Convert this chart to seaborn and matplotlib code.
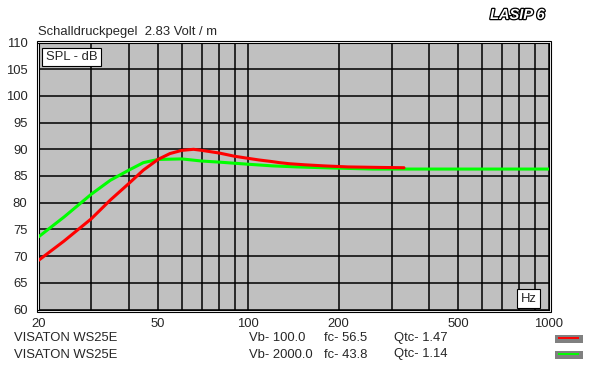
import matplotlib
matplotlib.use("Agg")
import matplotlib.pyplot as plt
import matplotlib.patheffects as pe
from matplotlib.patches import Rectangle
from matplotlib.lines import Line2D
import seaborn as sns
import pandas as pd

# data
freq_red = [20, 24.3, 30, 34.7, 40, 44.7, 50, 54.8, 60, 65.7, 70, 80, 90, 100, 108.6, 120, 127, 137, 154, 178, 215, 279, 330]
spl_red = [69.2, 72.8, 77.0, 80.5, 83.6, 86.1, 88.1, 89.2, 89.8, 90.0, 89.8, 89.3, 88.7, 88.3, 88.0, 87.7, 87.5, 87.3, 87.1, 86.9, 86.7, 86.6, 86.55]

freq_green = [20, 24.3, 30, 34.7, 40, 44.7, 50, 60, 70, 80, 100, 120, 145, 190, 260, 1000]
spl_green = [73.6, 77.3, 81.6, 84.2, 86.1, 87.5, 88.1, 88.2, 87.8, 87.6, 87.2, 86.9, 86.7, 86.5, 86.3, 86.3]

x_labels = [20, 50, 100, 200, 500, 1000]
x_grid = [30, 40, 60, 70, 80, 90, 300, 400, 600, 700, 800, 900]
y_ticks = list(range(60, 111, 5))

drivers = ["VISATON WS25E", "VISATON WS25E"]
vb = ["Vb- 100.0", "Vb- 2000.0"]
fc = ["fc- 56.5", "fc- 43.8"]
qtc = ["Qtc- 1.47", "Qtc- 1.14"]
colors = ["#ff0000", "#00ff00"]

W, H = 591, 367
FS = 9.4
sns.set_style("white")
plt.rcParams["font.family"] = ["Liberation Sans", "DejaVu Sans"]
plt.rcParams["font.size"] = FS

fig = plt.figure(figsize=(W / 100, H / 100), dpi=100)
fig.patch.set_facecolor("white")


def fx(px):
    return px / W


def fy(py):
    return 1 - py / H


left, right, top, bottom = 38.5, 548.5, 42.5, 309.5
ax = fig.add_axes([fx(left), fy(bottom), fx(right - left), (bottom - top) / H])
ax.set_facecolor("#c0c0c0")

df_red = pd.DataFrame({"f": freq_red, "spl": spl_red})
df_green = pd.DataFrame({"f": freq_green, "spl": spl_green})
sns.lineplot(data=df_red, x="f", y="spl", color=colors[0], lw=2.2, ax=ax, estimator=None, zorder=4)
sns.lineplot(data=df_green, x="f", y="spl", color=colors[1], lw=2.2, ax=ax, estimator=None, zorder=3)

ax.set_xscale("log")
ax.set_xlim(20, 1000)
ax.set_ylim(60, 110)
ax.set_xticks(x_labels)
ax.set_xticklabels([str(v) for v in x_labels])
ax.set_xticks(x_grid, minor=True)
ax.set_xticklabels([], minor=True)
ax.set_yticks(y_ticks)
ax.set_yticklabels([str(v) for v in y_ticks])
ax.tick_params(which="both", length=0)
ax.tick_params(axis="x", pad=6, labelsize=FS)
ax.tick_params(axis="y", pad=8, labelsize=FS)
ax.grid(which="both", color="black", lw=1.1)
ax.set_axisbelow(True)
ax.set_xlabel("")
ax.set_ylabel("")
for s in ax.spines.values():
    s.set_color("black")
    s.set_linewidth(0.8)

# outer frame line (double border)
fig.patches.append(Rectangle((fx(36.5), fy(311.5)), fx(550.5 - 36.5), (311.5 - 40.5) / H,
                             transform=fig.transFigure, fill=False, ec="black", lw=0.8))

# boxes inside the plot
fig.text(fx(71.5), fy(57), "SPL - dB", ha="center", va="center", fontsize=FS,
         bbox=dict(boxstyle="square,pad=0.25", fc="white", ec="black", lw=0.8), zorder=10)
fig.text(fx(528.5), fy(298.5), "Hz", ha="center", va="center", fontsize=FS,
         bbox=dict(boxstyle="square,pad=0.25", fc="white", ec="black", lw=0.8), zorder=10)

# titles
fig.text(fx(38), fy(32.5), "Schalldruckpegel  2.83 Volt / m", ha="left", va="center", fontsize=FS)
fig.text(fx(517.5), fy(15), "LASIP 6", ha="center", va="center", fontsize=10.5, fontweight="bold",
         fontstyle="italic", color="white",
         path_effects=[pe.withStroke(linewidth=1.8, foreground="black")])

# legend rows
row_y = [338, 354.5]
swatch_y = [335, 351]
for i in range(2):
    y = row_y[i]
    fig.text(fx(14), fy(y), drivers[i], ha="left", va="center", fontsize=FS)
    fig.text(fx(249), fy(y), vb[i], ha="left", va="center", fontsize=FS)
    fig.text(fx(324), fy(y), fc[i], ha="left", va="center", fontsize=FS)
    fig.text(fx(394), fy(y), qtc[i], ha="left", va="center", fontsize=FS)
    sy = swatch_y[i]
    fig.patches.append(Rectangle((fx(555), fy(sy + 8)), fx(28), 8 / H,
                                 transform=fig.transFigure, fc="#808080", ec="none"))
    fig.lines.append(Line2D([fx(558), fx(579)], [fy(sy + 2.7), fy(sy + 2.7)], transform=fig.transFigure,
                            color=colors[i], lw=1.4, solid_capstyle="butt"))

fig.savefig("out.png", dpi=100)
